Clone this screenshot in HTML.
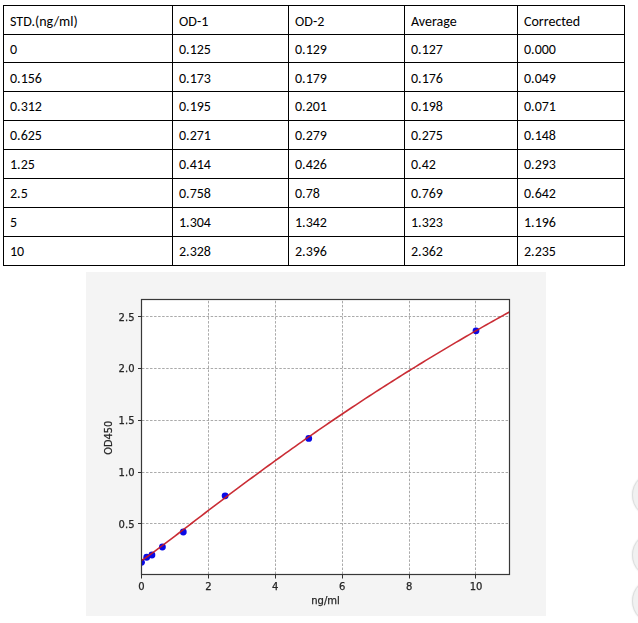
<!DOCTYPE html>
<html><head><meta charset="utf-8"><title>Standard curve</title>
<style>
html,body{margin:0;padding:0;background:#fff;}
body{width:638px;height:623px;position:relative;overflow:hidden;}
.h{position:absolute;left:3px;width:622px;height:1px;background:#000;}
.v{position:absolute;top:5px;width:1px;height:261px;background:#000;}
.t{position:absolute;font-family:Carlito,"Liberation Sans",sans-serif;font-size:14px;line-height:14px;color:#000;white-space:nowrap;}
.chart{position:absolute;left:86px;top:272px;will-change:transform;}
.fab{position:absolute;left:632px;width:46px;height:46px;box-sizing:border-box;border-radius:50%;background:#f1f1f1;border:1px solid #dcdede;box-shadow:0 0 2px rgba(0,0,0,0.12);}
</style></head><body>
<div class="h" style="top:5px"></div>
<div class="h" style="top:34px"></div>
<div class="h" style="top:62px"></div>
<div class="h" style="top:91px"></div>
<div class="h" style="top:120px"></div>
<div class="h" style="top:149px"></div>
<div class="h" style="top:178px"></div>
<div class="h" style="top:207px"></div>
<div class="h" style="top:236px"></div>
<div class="h" style="top:265px"></div>
<div class="v" style="left:3px"></div>
<div class="v" style="left:172px"></div>
<div class="v" style="left:288px"></div>
<div class="v" style="left:404px"></div>
<div class="v" style="left:517px"></div>
<div class="v" style="left:624px"></div>
<span class="t" style="left:10px;top:15px">STD.(ng/ml)</span>
<span class="t" style="left:179px;top:15px">OD-1</span>
<span class="t" style="left:295px;top:15px">OD-2</span>
<span class="t" style="left:411px;top:15px">Average</span>
<span class="t" style="left:524px;top:15px">Corrected</span>
<span class="t" style="left:10px;top:43px">0</span>
<span class="t" style="left:179px;top:43px">0.125</span>
<span class="t" style="left:295px;top:43px">0.129</span>
<span class="t" style="left:411px;top:43px">0.127</span>
<span class="t" style="left:524px;top:43px">0.000</span>
<span class="t" style="left:10px;top:72px">0.156</span>
<span class="t" style="left:179px;top:72px">0.173</span>
<span class="t" style="left:295px;top:72px">0.179</span>
<span class="t" style="left:411px;top:72px">0.176</span>
<span class="t" style="left:524px;top:72px">0.049</span>
<span class="t" style="left:10px;top:100px">0.312</span>
<span class="t" style="left:179px;top:100px">0.195</span>
<span class="t" style="left:295px;top:100px">0.201</span>
<span class="t" style="left:411px;top:100px">0.198</span>
<span class="t" style="left:524px;top:100px">0.071</span>
<span class="t" style="left:10px;top:129px">0.625</span>
<span class="t" style="left:179px;top:129px">0.271</span>
<span class="t" style="left:295px;top:129px">0.279</span>
<span class="t" style="left:411px;top:129px">0.275</span>
<span class="t" style="left:524px;top:129px">0.148</span>
<span class="t" style="left:10px;top:158px">1.25</span>
<span class="t" style="left:179px;top:158px">0.414</span>
<span class="t" style="left:295px;top:158px">0.426</span>
<span class="t" style="left:411px;top:158px">0.42</span>
<span class="t" style="left:524px;top:158px">0.293</span>
<span class="t" style="left:10px;top:187px">2.5</span>
<span class="t" style="left:179px;top:187px">0.758</span>
<span class="t" style="left:295px;top:187px">0.78</span>
<span class="t" style="left:411px;top:187px">0.769</span>
<span class="t" style="left:524px;top:187px">0.642</span>
<span class="t" style="left:10px;top:216px">5</span>
<span class="t" style="left:179px;top:216px">1.304</span>
<span class="t" style="left:295px;top:216px">1.342</span>
<span class="t" style="left:411px;top:216px">1.323</span>
<span class="t" style="left:524px;top:216px">1.196</span>
<span class="t" style="left:10px;top:245px">10</span>
<span class="t" style="left:179px;top:245px">2.328</span>
<span class="t" style="left:295px;top:245px">2.396</span>
<span class="t" style="left:411px;top:245px">2.362</span>
<span class="t" style="left:524px;top:245px">2.235</span>
<svg class="chart" width="460" height="344" viewBox="86 272 460 344">
<defs><clipPath id="ax"><rect x="141.5" y="299.5" width="368" height="275"/></clipPath></defs>
<rect x="86" y="272" width="460" height="344" fill="#f4f4f4"/>
<rect x="141" y="299" width="369" height="276" fill="#fff"/>
<g stroke="#a0a0a0" stroke-width="0.9" stroke-dasharray="2.5 1.54" stroke-dashoffset="-0.45"><line x1="208.5" y1="574.5" x2="208.5" y2="299.5"/><line x1="275.5" y1="574.5" x2="275.5" y2="299.5"/><line x1="342.5" y1="574.5" x2="342.5" y2="299.5"/><line x1="409.5" y1="574.5" x2="409.5" y2="299.5"/><line x1="475.5" y1="574.5" x2="475.5" y2="299.5"/><line x1="141.5" y1="523.5" x2="509.5" y2="523.5"/><line x1="141.5" y1="472.5" x2="509.5" y2="472.5"/><line x1="141.5" y1="420.5" x2="509.5" y2="420.5"/><line x1="141.5" y1="368.5" x2="509.5" y2="368.5"/><line x1="141.5" y1="316.5" x2="509.5" y2="316.5"/></g>
<g clip-path="url(#ax)"><g fill="#0a0ae6"><circle cx="141.50" cy="562.34" r="3.4"/><circle cx="146.72" cy="557.27" r="3.4"/><circle cx="151.94" cy="554.99" r="3.4"/><circle cx="162.41" cy="547.01" r="3.4"/><circle cx="183.31" cy="531.99" r="3.4"/><circle cx="225.12" cy="495.83" r="3.4"/><circle cx="308.75" cy="438.44" r="3.4"/><circle cx="476.00" cy="330.80" r="3.4"/></g>
<polyline points="141.50,560.46 144.84,558.34 148.19,556.02 151.53,553.62 154.88,551.17 158.22,548.70 161.57,546.19 164.91,543.67 168.26,541.14 171.61,538.59 174.95,536.04 178.30,533.49 181.64,530.93 184.99,528.36 188.33,525.80 191.68,523.24 195.02,520.67 198.37,518.11 201.71,515.55 205.06,513.00 208.40,510.45 211.75,507.90 215.09,505.35 218.44,502.82 221.78,500.28 225.12,497.75 228.47,495.23 231.81,492.71 235.16,490.20 238.51,487.70 241.85,485.20 245.19,482.71 248.54,480.23 251.89,477.76 255.23,475.29 258.58,472.83 261.92,470.38 265.26,467.93 268.61,465.49 271.96,463.06 275.30,460.64 278.65,458.23 281.99,455.82 285.34,453.43 288.68,451.04 292.02,448.66 295.37,446.29 298.72,443.92 302.06,441.57 305.41,439.22 308.75,436.88 312.10,434.55 315.44,432.23 318.79,429.92 322.13,427.61 325.48,425.32 328.82,423.03 332.17,420.75 335.51,418.48 338.86,416.22 342.20,413.97 345.55,411.73 348.89,409.49 352.24,407.26 355.58,405.05 358.93,402.84 362.27,400.64 365.62,398.44 368.96,396.26 372.31,394.08 375.65,391.92 379.00,389.76 382.34,387.61 385.69,385.47 389.03,383.34 392.38,381.21 395.72,379.09 399.07,376.99 402.41,374.89 405.76,372.80 409.10,370.71 412.44,368.64 415.79,366.57 419.14,364.51 422.48,362.46 425.83,360.42 429.17,358.39 432.52,356.36 435.86,354.35 439.21,352.34 442.55,350.33 445.90,348.34 449.24,346.36 452.59,344.38 455.93,342.41 459.28,340.45 462.62,338.49 465.97,336.55 469.31,334.61 472.66,332.68 476.00,330.75 479.35,328.84 482.69,326.93 486.04,325.03 489.38,323.14 492.73,321.25 496.07,319.38 499.42,317.51 502.76,315.65 506.11,313.79 509.45,311.94" fill="none" stroke="#c4161f" stroke-opacity="0.9" stroke-width="1.6" stroke-linejoin="round"/></g>
<rect x="141.5" y="299.5" width="368" height="275" fill="none" stroke="#383838" stroke-width="1.2"/>
<g stroke="#303030" stroke-width="1"><line x1="141.5" y1="574.5" x2="141.5" y2="578.5"/><line x1="208.5" y1="574.5" x2="208.5" y2="578.5"/><line x1="275.5" y1="574.5" x2="275.5" y2="578.5"/><line x1="342.5" y1="574.5" x2="342.5" y2="578.5"/><line x1="409.5" y1="574.5" x2="409.5" y2="578.5"/><line x1="475.5" y1="574.5" x2="475.5" y2="578.5"/><line x1="138" y1="523.5" x2="141.5" y2="523.5"/><line x1="138" y1="472.5" x2="141.5" y2="472.5"/><line x1="138" y1="420.5" x2="141.5" y2="420.5"/><line x1="138" y1="368.5" x2="141.5" y2="368.5"/><line x1="138" y1="316.5" x2="141.5" y2="316.5"/></g>
<g font-family="'DejaVu Sans', sans-serif" font-size="10" fill="#262626" stroke="#262626" stroke-width="0.25">
<text x="141.50" y="590" text-anchor="middle">0</text><text x="208.40" y="590" text-anchor="middle">2</text><text x="275.30" y="590" text-anchor="middle">4</text><text x="342.20" y="590" text-anchor="middle">6</text><text x="409.10" y="590" text-anchor="middle">8</text><text x="476.00" y="590" text-anchor="middle">10</text><text x="134.5" y="527.70" text-anchor="end">0.5</text><text x="134.5" y="475.90" text-anchor="end">1.0</text><text x="134.5" y="424.10" text-anchor="end">1.5</text><text x="134.5" y="372.30" text-anchor="end">2.0</text><text x="134.5" y="320.50" text-anchor="end">2.5</text>
<text x="325.5" y="604" text-anchor="middle">ng/ml</text>
<text transform="translate(112,437.7) rotate(-90)" text-anchor="middle" font-size="9.8">OD450</text>
</g>
</svg>
<div class="fab" style="top:471.5px"></div>
<div class="fab" style="top:531.5px"></div>
<div class="fab" style="top:577.5px"></div>
</body></html>
